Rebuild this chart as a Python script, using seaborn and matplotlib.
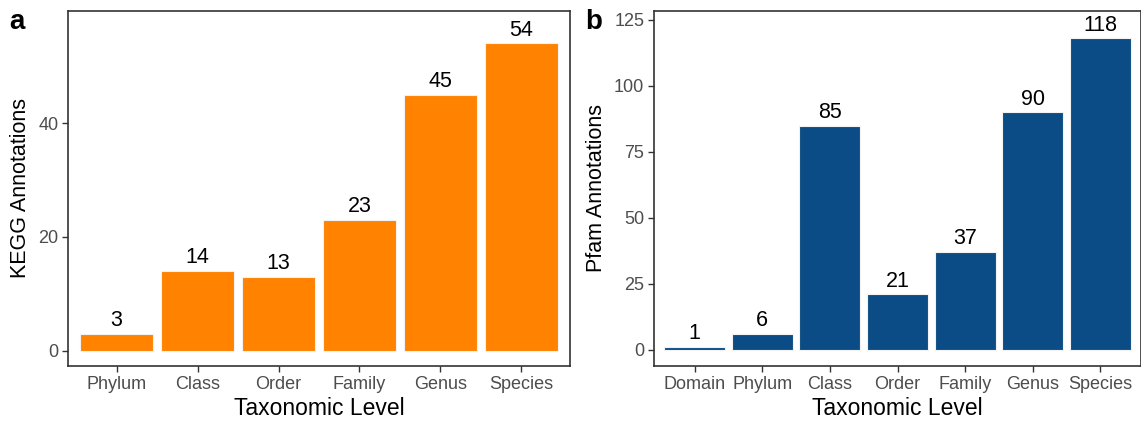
import matplotlib
matplotlib.use("Agg")
import matplotlib.pyplot as plt
import seaborn as sns
import pandas as pd

kegg_levels = ["Phylum", "Class", "Order", "Family", "Genus", "Species"]
kegg_values = [3, 14, 13, 23, 45, 54]
pfam_levels = ["Domain", "Phylum", "Class", "Order", "Family", "Genus", "Species"]
pfam_values = [1, 6, 85, 21, 37, 90, 118]
kegg_ticks = [0, 20, 40]
pfam_ticks = [0, 25, 50, 75, 100, 125]

sns.set_theme(style="white")
plt.rcParams['font.family'] = ['Liberation Sans', 'DejaVu Sans']

W, H = 1141, 422
fig = plt.figure(figsize=(W / 100, H / 100), dpi=100)

def rect(l, t, r, b):
    return [l / W, 1 - b / H, (r - l) / W, (b - t) / H]

axa = fig.add_axes(rect(68, 11, 570, 366))
axb = fig.add_axes(rect(654, 11, 1141, 366))

def panel(ax, levels, values, color, ylim, ticks, ylabel):
    df = pd.DataFrame({"level": levels, "value": values})
    sns.barplot(data=df, x="level", y="value", color=color, width=0.9,
                edgecolor="#f2f2f2", linewidth=0.8, saturation=1, ax=ax)
    off = (ylim[1] - ylim[0]) * 0.008
    for i, v in enumerate(values):
        ax.text(i, v + off, str(v), ha="center", va="bottom", fontsize=15.5, color="black")
    ax.set_xlim(-0.6, len(levels) - 0.4)
    ax.set_ylim(*ylim)
    ax.set_yticks(ticks)
    ax.set_xlabel("Taxonomic Level", fontsize=16.5, color="black", labelpad=3)
    ax.set_ylabel(ylabel, fontsize=15.5, color="black", labelpad=5)
    ax.tick_params(axis="both", which="both", length=4, width=1, color="#333333",
                   labelsize=13, labelcolor="#4d4d4d", pad=3, bottom=True, left=True)
    for s in ax.spines.values():
        s.set_color("#333333")
        s.set_linewidth(1.2)
    ax.grid(False)

panel(axa, kegg_levels, kegg_values, "#ff8200", (-2.7, 59.7), kegg_ticks, "KEGG Annotations")
panel(axb, pfam_levels, pfam_values, "#0b4c86", (-6.1, 128.4), pfam_ticks, "Pfam Annotations")

fig.text(9 / W, 1 - 22 / H, "a", fontsize=20, fontweight="bold", va="center", ha="left", color="black")
fig.text(585 / W, 1 - 22 / H, "b", fontsize=20, fontweight="bold", va="center", ha="left", color="black")

fig.savefig("out.png", dpi=100)
